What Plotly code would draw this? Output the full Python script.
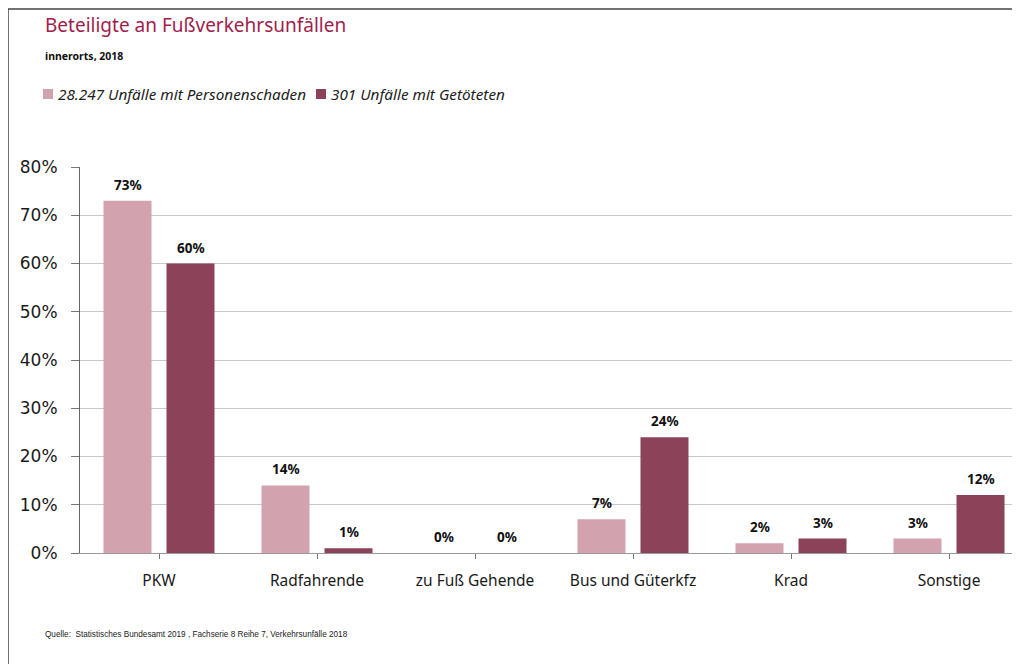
import plotly.graph_objects as go

categories = ["PKW", "Radfahrende", "zu Fuß Gehende", "Bus und Güterkfz", "Krad", "Sonstige"]
personenschaden = [73, 14, 0, 7, 2, 3]
getoetete = [60, 1, 0, 24, 3, 12]
series_names = ["28.247 Unfälle mit Personenschaden", "301 Unfälle mit Getöteten"]
y_ticks = [0, 10, 20, 30, 40, 50, 60, 70, 80]
y_tick_labels = ["0%", "10%", "20%", "30%", "40%", "50%", "60%", "70%", "80%"]

LIGHT = "#d3a2af"
DARK = "#8c4359"
TITLE_COLOR = "#a01e4b"

OFF = 8  # browser body margin
W, H = 1020, 664
L, R, T, B = 80 - OFF, 0, 167 - OFF, 664 - (553 - OFF)
PW, PH = W - L - R, H - T - B
BAND = 158.0

def px_x(p):
    return (p - OFF - L) / PW

def px_y(p):
    return (H - B - (p - OFF)) / PH

bar_w = 48 / BAND
fig = go.Figure()
fig.add_bar(x=categories, y=personenschaden, name=series_names[0], marker_color=LIGHT,
            width=bar_w, offset=(-55.5) / BAND, showlegend=False, marker_line_width=0)
fig.add_bar(x=categories, y=getoetete, name=series_names[1], marker_color=DARK,
            width=bar_w, offset=(7.5) / BAND, showlegend=False, marker_line_width=0)

ann = []
for c, v in zip(categories, personenschaden):
    ann.append(dict(x=c, y=v, xref="x", yref="y", text=f"<b>{v}%</b>", showarrow=False,
                    xshift=-31.5, yshift=16, font=dict(family="Noto Sans", size=13.5, color="#111")))
for c, v in zip(categories, getoetete):
    ann.append(dict(x=c, y=v, xref="x", yref="y", text=f"<b>{v}%</b>", showarrow=False,
                    xshift=31.5, yshift=16, font=dict(family="Noto Sans", size=13.5, color="#111")))

# title, subtitle, legend, source
ann.append(dict(x=px_x(43), y=px_y(25), xref="paper", yref="paper", xanchor="left", yanchor="middle",
                text="Beteiligte an Fußverkehrsunfällen", showarrow=False,
                font=dict(family="Noto Sans", size=19, color=TITLE_COLOR)))
ann.append(dict(x=px_x(43), y=px_y(56), xref="paper", yref="paper", xanchor="left", yanchor="middle",
                text="<b>innerorts, 2018</b>", showarrow=False,
                font=dict(family="Noto Sans", size=10.5, color="#111")))
leg_x = [43, 316]
shapes = []
for lx, name, col in zip(leg_x, series_names, [LIGHT, DARK]):
    shapes.append(dict(type="rect", xref="paper", yref="paper",
                       x0=px_x(lx), x1=px_x(lx + 10), y0=px_y(99), y1=px_y(89),
                       fillcolor=col, line_width=0))
    ann.append(dict(x=px_x(lx + 13), y=px_y(94), xref="paper", yref="paper", xanchor="left",
                    yanchor="middle", text=name, showarrow=False,
                    font=dict(family="Noto Sans", size=15.3, color="#222", style="italic")))
ann.append(dict(x=px_x(43), y=px_y(634), xref="paper", yref="paper", xanchor="left", yanchor="middle",
                text="Quelle:  Statistisches Bundesamt 2019 , Fachserie 8 Reihe 7, Verkehrsunfälle 2018",
                showarrow=False, font=dict(family="Liberation Sans", size=8.2, color="#222")))

# outer frame (left and top edges)
shapes.append(dict(type="line", xref="paper", yref="paper", x0=px_x(8), x1=px_x(8), y0=px_y(9), y1=px_y(680),
                   line=dict(color="#444", width=1.5)))
shapes.append(dict(type="line", xref="paper", yref="paper", x0=px_x(8), x1=px_x(1040), y0=px_y(9), y1=px_y(9),
                   line=dict(color="#444", width=1.5)))

fig.update_layout(
    width=W, height=H,
    margin=dict(l=L, r=R, t=T, b=B, pad=0),
    plot_bgcolor="white", paper_bgcolor="white",
    barmode="group",
    annotations=ann, shapes=shapes,
    showlegend=False,
)
fig.update_xaxes(range=[-0.5, -0.5 + PW / BAND], showline=True, linecolor="#999", linewidth=1,
                 ticks="outside", ticklen=5, tickcolor="#777", showgrid=False,
                 tickfont=dict(family="Noto Sans", size=15.5, color="#1a1a1a"), ticklabelstandoff=8)
fig.update_yaxes(range=[0, 80], tickvals=y_ticks, ticktext=y_tick_labels, showline=True, linecolor="#666",
                 linewidth=1, ticks="outside", ticklen=8, tickcolor="#777",
                 showgrid=True, gridcolor="#c8c8c8", gridwidth=1, zeroline=False,
                 tickfont=dict(family="DejaVu Sans", size=17, color="#1a1a1a"), ticklabelstandoff=10)

fig.write_html("out.html")
